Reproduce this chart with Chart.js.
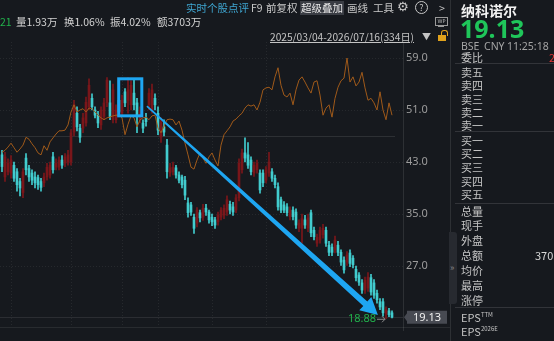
<!DOCTYPE html>
<html><head><meta charset="utf-8">
<script src="https://cdn.jsdelivr.net/npm/chart.js@4.4.1/dist/chart.umd.min.js"></script>
<style>
html,body{margin:0;padding:0;background:#16191e;width:554px;height:341px;overflow:hidden;font-family:"Noto Sans CJK SC","Noto Sans",sans-serif;}
#c{position:absolute;left:0;top:0;}
.t{position:absolute;white-space:nowrap;font-size:10.5px;line-height:14px;color:#c9c9c9;}
.p{position:absolute;white-space:nowrap;font-size:11px;line-height:14px;color:#c4c4c4;left:461px;}
.sep{position:absolute;left:455px;width:99px;height:1px;background:rgba(255,255,255,0.12);}
</style></head><body>
<canvas id="c" width="554" height="341"></canvas>

<!-- header row 1 -->
<span class="t" style="left:186px;top:1px;color:#3fa8d4">实时个股点评</span>
<span class="t" style="left:251px;top:1px;">F9</span>
<span class="t" style="left:266px;top:1px;">前复权</span>
<span class="t" style="left:300px;top:1px;background:#3a3d44;color:#e8e8e8;padding:0 1px;">超级叠加</span>
<span class="t" style="left:347px;top:1px;">画线</span>
<span class="t" style="left:373px;top:1px;">工具</span>
<span class="t" style="left:397px;top:0px;font-size:13px;font-family:'DejaVu Sans';">⚙</span>
<span class="t" style="left:415px;top:1px;width:11px;height:11px;line-height:11px;border:1px solid #c9c9c9;border-radius:50%;text-align:center;font-size:9px;">?</span>
<span class="t" style="left:439px;top:1px;">&gt;</span>
<!-- header row 2 -->
<span class="t" style="left:0px;top:15px;color:#22b24c">21</span>
<span class="t" style="left:16px;top:15px;color:#d4d4d4">量1.93万</span>
<span class="t" style="left:64px;top:15px;color:#d4d4d4">换1.06%</span>
<span class="t" style="left:110px;top:15px;color:#d4d4d4">振4.02%</span>
<span class="t" style="left:157px;top:15px;color:#d4d4d4">额3703万</span>
<div style="position:absolute;left:435px;top:17px;width:11px;height:7px;border:1px solid #9a9a9a;font-size:5px;line-height:7px;color:#bbb;text-align:center;font-family:'DejaVu Sans';">WP</div>
<div style="position:absolute;left:438px;top:26px;width:6px;height:1px;background:#9a9a9a;"></div>
<!-- header row 3 -->
<span class="t" style="left:270px;top:30px;font-size:10.2px;text-decoration:underline;color:#c4c4c4">2025/03/04-2026/07/16(334日)</span>
<span class="t" style="left:422px;top:30px;font-size:9px;color:#c4c4c4">▼</span>
<div style="position:absolute;left:438px;top:35px;width:8px;height:6px;background:#e0a21c;"></div>
<div style="position:absolute;left:441px;top:30px;width:5px;height:5px;border:1px solid #e0a21c;border-bottom:none;border-radius:3px 3px 0 0;"></div>

<!-- chart frame lines -->
<div style="position:absolute;left:0;top:327px;width:450px;height:1px;background:rgba(255,255,255,0.08);"></div>
<div style="position:absolute;left:450px;top:0;width:1px;height:341px;background:rgba(255,255,255,0.1);"></div>
<div style="position:absolute;left:449px;top:232px;width:8px;height:72px;background:#272a30;border-radius:0 3px 3px 0;"></div>
<span class="t" style="left:450px;top:261px;font-size:9px;color:#888;">»</span>

<!-- right panel -->
<span class="t" style="left:461px;top:2px;font-size:14px;line-height:17px;font-weight:bold;color:#f2f2f2;">纳科诺尔</span>
<span class="t" style="left:460px;top:13px;font-size:25px;line-height:30px;font-weight:bold;color:#1fc65a;font-family:'Noto Sans',sans-serif;">19.13</span>
<span class="t" style="left:461px;top:39px;font-size:10.5px;color:#a4a4a4;font-family:'Noto Sans',sans-serif;">BSE</span>
<span class="t" style="left:484px;top:39px;font-size:10.5px;color:#a4a4a4;font-family:'Noto Sans',sans-serif;">CNY</span>
<span class="t" style="left:507px;top:39px;font-size:10.5px;color:#a4a4a4;font-family:'Noto Sans',sans-serif;">11:25:18</span>
<span class="p" style="top:50px;">委比</span>
<span class="t" style="left:549px;top:50px;font-size:11px;color:#e03434;">2</span>
<div class="sep" style="top:63px;"></div>
<span class="p" style="top:65px;">卖五</span>
<span class="p" style="top:78px;">卖四</span>
<span class="p" style="top:92px;">卖三</span>
<span class="p" style="top:105px;">卖二</span>
<span class="p" style="top:118px;">卖一</span>
<div class="sep" style="top:131px;"></div>
<span class="p" style="top:133px;">买一</span>
<span class="p" style="top:146px;">买二</span>
<span class="p" style="top:160px;">买三</span>
<span class="p" style="top:174px;">买四</span>
<span class="p" style="top:187px;">买五</span>
<div class="sep" style="top:203px;"></div>
<span class="p" style="top:204px;">总量</span>
<span class="p" style="top:218px;">现手</span>
<span class="p" style="top:233px;">外盘</span>
<span class="p" style="top:248px;">总额</span>
<span class="t" style="left:535px;top:248px;font-size:11px;color:#d8d8d8;">370</span>
<span class="p" style="top:263px;">均价</span>
<span class="p" style="top:278px;">最高</span>
<span class="p" style="top:293px;">涨停</span>
<div class="sep" style="top:307px;"></div>
<span class="p" style="top:308px;">EPS<sup style="font-size:6px;vertical-align:5px;">TTM</sup></span>
<span class="p" style="top:322px;">EPS<sup style="font-size:6px;vertical-align:5px;">2026E</sup></span>

<script>
// ---- data ----
const candleOpen = [
44.1,40.7,41.5,41.3,42.5,41.5,40.0,38.3,43.6,42.0,
41.3,40.7,40.6,40.0,39.8,40.7,41.0,43.8,42.2,42.2,
43.3,42.8,43.0,43.0,47.6,50.5,48.2,48.2,49.0,51.5,
52.8,51.0,50.2,48.7,50.0,52.1,52.1,49.5,49.5,52.5,
50.5,53.8,52.5,51.8,53.6,52.1,49.5,49.0,49.8,51.8,
51.0,52.8,50.5,46.8,48.4,45.6,41.3,41.5,42.1,41.0,
40.7,40.2,36.7,36.4,34.5,33.6,35.2,34.5,35.9,35.3,
34.5,34.1,33.8,34.5,34.8,35.3,36.5,36.1,35.6,37.5,
41.8,44.4,44.1,43.3,41.3,41.8,41.3,41.3,40.2,41.3,
41.5,40.5,39.2,37.2,36.4,36.1,34.6,35.6,35.3,32.8,
32.8,34.1,32.8,35.2,32.5,30.5,31.0,31.8,32.5,30.2,
29.9,29.5,30.2,29.1,27.9,27.6,29.0,28.2,26.5,25.6,
24.4,23.3,23.6,25.2,24.4,22.8,21.5,21.5,19.7,20.1,
19.8];
const candleClose = [
42.3,43.8,42.8,43.3,40.5,39.5,39.0,41.5,41.8,40.7,
40.2,39.8,39.5,39.1,40.7,42.2,42.5,41.8,42.8,43.3,
42.5,43.8,44.1,47.5,51.8,48.4,46.8,49.8,52.2,54.8,
51.5,50.2,49.0,51.0,52.1,55.6,50.0,54.1,51.0,50.7,
52.5,52.1,54.1,54.8,51.8,50.2,51.0,48.2,49.2,53.6,
54.1,51.8,47.9,49.2,47.6,41.5,42.1,42.2,41.0,40.2,
39.5,37.9,35.2,35.3,32.8,35.6,34.4,35.9,35.3,34.1,
33.8,33.3,34.8,35.6,35.9,37.2,35.6,35.3,37.5,42.8,
44.4,43.6,42.5,41.5,42.5,42.8,38.7,39.8,41.8,43.0,
40.5,39.5,36.1,35.6,35.6,35.2,35.6,34.6,33.3,33.6,
34.3,33.3,34.4,32.1,31.5,31.4,32.5,32.8,30.5,29.1,
29.1,31.0,29.1,27.6,26.4,28.7,27.4,27.2,25.2,24.5,
23.3,24.8,25.3,23.0,22.5,21.8,20.7,19.8,20.3,19.5,
19.13];
const candleHigh = [
44.8,44.5,43.5,44.0,43.0,42.0,40.5,42.0,44.3,42.5,
41.8,41.5,41.0,40.5,41.3,42.8,43.0,44.5,43.5,43.8,
44.0,44.3,44.8,48.0,52.5,51.5,48.8,50.5,53.0,55.8,
53.5,51.5,50.8,51.5,52.8,56.0,55.5,55.0,51.8,53.0,
53.3,54.3,56.0,55.5,55.8,52.8,51.5,49.5,50.5,54.3,
55.0,53.5,51.5,49.8,49.5,46.5,42.8,43.0,42.5,41.5,
41.0,40.8,37.5,36.8,35.0,36.0,35.6,36.5,36.5,35.6,
35.0,34.5,35.3,36.0,36.4,37.8,37.0,36.8,38.0,43.5,
45.0,46.7,46.0,43.8,43.0,43.3,41.8,41.8,42.3,44.5,
42.0,41.0,39.8,37.6,36.9,36.6,36.1,36.1,35.8,34.1,
35.0,34.8,35.0,35.6,33.0,31.9,33.0,33.4,33.0,30.8,
30.4,31.6,30.8,29.5,28.4,29.2,29.5,28.6,27.0,26.0,
24.9,25.3,26.0,25.7,24.9,23.3,22.0,22.0,20.7,20.5,
20.1];
const candleLow = [
41.5,40.0,41.0,40.5,40.0,38.5,37.8,37.5,41.0,40.0,
39.5,39.0,38.8,38.5,39.2,40.2,40.5,41.3,41.8,41.8,
42.0,42.3,42.5,42.5,47.0,47.8,46.0,47.5,48.5,51.0,
51.0,49.8,48.3,48.0,49.5,51.5,49.5,49.0,49.0,50.0,
50.0,51.5,50.5,51.0,51.0,47.5,49.0,47.5,48.5,51.0,
50.5,51.0,47.2,46.0,47.0,40.5,40.8,41.0,40.5,39.8,
39.0,37.2,34.5,34.8,32.0,33.0,33.8,34.0,34.8,33.6,
33.2,32.8,33.3,34.1,34.3,34.8,35.0,34.8,35.2,37.0,
41.3,43.0,42.0,41.0,40.8,41.3,38.2,39.2,39.8,40.8,
40.0,39.0,35.6,35.2,35.2,34.7,34.1,34.1,32.8,32.3,
30.5,32.8,32.3,31.5,31.0,30.0,30.5,31.3,30.0,28.6,
28.6,29.0,28.6,27.1,25.9,27.1,26.9,26.7,24.7,24.0,
22.8,22.8,23.1,22.5,22.0,21.3,20.3,19.3,18.88,19.2,
19.0];
// overlaid comparison series, expressed on the price axis
const overlaySeries = [
44.5,44.8,45.3,45.9,45.2,44.5,45.0,45.6,46.8,46.5,
45.8,45.2,44.4,44.1,45.5,44.8,46.1,46.7,47.3,47.8,
47.8,47.9,48.7,50.7,51.8,50.7,51.0,51.2,50.7,51.3,
51.2,50.7,50.2,49.8,49.5,49.8,49.9,50.1,50.2,50.2,
49.8,47.2,48.8,50.1,49.8,48.4,49.5,49.8,49.9,49.5,
50.1,50.2,48.2,47.5,48.5,49.5,49.6,49.5,48.7,49.3,
47.9,45.9,44.1,42.2,41.9,43.3,44.4,43.6,42.8,43.8,
44.4,43.3,42.4,45.6,47.2,47.8,48.4,49.3,49.6,50.1,
50.5,51.3,51.8,51.6,51.8,51.0,52.2,54.1,54.4,54.5,
54.1,56.1,57.5,54.8,53.3,53.0,53.6,51.8,54.1,55.6,
56.1,55.3,54.4,53.6,55.3,55.5,53.3,50.2,51.3,51.8,
49.9,52.8,54.5,55.5,55.9,59.0,55.3,56.1,54.7,55.3,
56.8,54.4,52.5,52.8,52.1,51.0,53.8,51.0,49.5,52.1,
50.2];
const yTickValues = [59, 51, 43, 35, 27];
const lastPrice = 19.13;
const lowestPrice = 18.88;
const lowestIndex = 128;
const referenceLevel = 47.0;
const monthGridIndex = [3, 23, 40, 52, 70, 88];

// ---- chart ----
const idx = candleClose.map((_, i) => i);
const UP = 'rgb(122,22,26)', DOWN = 'rgb(66,204,206)';
const candleColors = idx.map(i => candleClose[i] >= candleOpen[i] ? UP : DOWN);
const bodies = idx.map(i => ({x: i, y: [candleOpen[i], candleClose[i]]}));
const wicks = idx.map(i => ({x: i, y: [candleLow[i], candleHigh[i]]}));
const overlayPts = idx.map(i => ({x: i, y: overlaySeries[i]}));

const annot = {
  id: 'annot',
  beforeDatasetsDraw(chart) {
    const {ctx, chartArea: a, scales: {x, y}} = chart;
    ctx.save();
    ctx.strokeStyle = 'rgba(255,255,255,0.07)';
    ctx.lineWidth = 1;
    ctx.setLineDash([1, 2]);
    yTickValues.forEach(v => {
      const py = Math.round(y.getPixelForValue(v)) + 0.5;
      ctx.beginPath(); ctx.moveTo(a.left, py); ctx.lineTo(a.right, py); ctx.stroke();
    });
    monthGridIndex.forEach(v => {
      const px = Math.round(x.getPixelForValue(v)) + 0.5;
      ctx.beginPath(); ctx.moveTo(px, a.top); ctx.lineTo(px, 327); ctx.stroke();
    });
    ctx.setLineDash([]);
    ctx.strokeStyle = 'rgba(255,255,255,0.1)';
    let py = Math.round(y.getPixelForValue(referenceLevel)) + 0.5;
    ctx.beginPath(); ctx.moveTo(a.left, py); ctx.lineTo(x.getPixelForValue(131), py); ctx.stroke();
    ctx.strokeStyle = 'rgba(255,255,255,0.09)';
    py = Math.round(y.getPixelForValue(lastPrice)) + 0.5;
    ctx.beginPath(); ctx.moveTo(a.left, py); ctx.lineTo(a.right, py); ctx.stroke();
    ctx.restore();
  },
  afterDatasetsDraw(chart) {
    const {ctx, chartArea: a, scales: {x, y}} = chart;
    ctx.save();
    const blue = '#1ea6f2';
    // highlight box
    ctx.strokeStyle = blue; ctx.lineWidth = 3;
    const bx0 = x.getPixelForValue(38.9), bx1 = x.getPixelForValue(46.6);
    const by0 = y.getPixelForValue(55.8), by1 = y.getPixelForValue(50.1);
    ctx.strokeRect(bx0, by0, bx1 - bx0, by1 - by0);
    // tapered arrow
    const sx = x.getPixelForValue(48.3), sy = y.getPixelForValue(51.6);
    const tx = x.getPixelForValue(125.3), ty = y.getPixelForValue(19.45);
    const dx = tx - sx, dy = ty - sy, L = Math.hypot(dx, dy);
    const ux = dx / L, uy = dy / L, nx = -uy, ny = ux;
    const hl = 17, hw = 9, w0 = 0.8, w1 = 3;
    const bxp = tx - ux * hl, byp = ty - uy * hl;
    ctx.fillStyle = blue;
    ctx.beginPath();
    ctx.moveTo(sx + nx * w0, sy + ny * w0);
    ctx.lineTo(bxp + nx * w1, byp + ny * w1);
    ctx.lineTo(bxp + nx * hw, byp + ny * hw);
    ctx.lineTo(tx, ty);
    ctx.lineTo(bxp - nx * hw, byp - ny * hw);
    ctx.lineTo(bxp - nx * w1, byp - ny * w1);
    ctx.lineTo(sx - nx * w0, sy - ny * w0);
    ctx.closePath(); ctx.fill();
    // lowest price marker
    const ly = y.getPixelForValue(lowestPrice);
    const lx = x.getPixelForValue(lowestIndex);
    ctx.font = '11px "Noto Sans", sans-serif';
    ctx.fillStyle = '#22b14c'; ctx.textAlign = 'right'; ctx.textBaseline = 'middle';
    ctx.fillText(lowestPrice.toFixed(2), lx - 10, ly);
    ctx.strokeStyle = '#8a8a8a'; ctx.lineWidth = 1;
    ctx.beginPath(); ctx.moveTo(lx - 9, ly + 0.5); ctx.lineTo(lx - 1, ly + 0.5);
    ctx.moveTo(lx - 4, ly - 2.5); ctx.lineTo(lx - 1, ly + 0.5); ctx.lineTo(lx - 4, ly + 3.5); ctx.stroke();
    // last price tag
    const py = y.getPixelForValue(lastPrice);
    ctx.fillStyle = '#474a52';
    ctx.beginPath();
    ctx.moveTo(a.right + 1, py);
    ctx.lineTo(a.right + 4, py - 4);
    ctx.lineTo(a.right + 4, py - 6.5);
    ctx.lineTo(a.right + 44, py - 6.5);
    ctx.lineTo(a.right + 44, py + 6.5);
    ctx.lineTo(a.right + 4, py + 6.5);
    ctx.lineTo(a.right + 4, py + 4);
    ctx.closePath(); ctx.fill();
    ctx.fillStyle = '#f0f0f0'; ctx.textAlign = 'center';
    ctx.fillText(lastPrice.toFixed(2), a.right + 24, py + 0.5);
    ctx.restore();
  }
};

new Chart(document.getElementById('c'), {
  type: 'bar',
  data: {
    datasets: [
      {type: 'line', data: overlayPts, borderColor: 'rgb(160,90,26)', borderWidth: 1, pointRadius: 0, tension: 0, order: 0},
      {data: bodies, backgroundColor: candleColors, barThickness: 2, minBarLength: 1, grouped: false, order: 1},
      {data: wicks, backgroundColor: candleColors, barThickness: 1, grouped: false, order: 2}
    ]
  },
  options: {
    responsive: false, animation: false, devicePixelRatio: 1,
    layout: {padding: {left: 0, top: 42, right: 104, bottom: 11}},
    plugins: {legend: {display: false}, tooltip: {enabled: false}},
    scales: {
      x: {type: 'linear', display: false, min: -2 / 3, max: 403 / 3 - 2 / 3, offset: false},
      y: {
        position: 'right', min: 17.1538, max: 61.4615,
        afterFit(s) { s.width = 47; },
        afterBuildTicks(s) { s.ticks = yTickValues.map(v => ({value: v})); },
        ticks: {color: '#9c9c9c', padding: 3, font: {size: 11, family: 'Noto Sans'}, callback: v => Number(v).toFixed(1)},
        grid: {display: false, drawTicks: false},
        border: {display: true, color: 'rgba(255,255,255,0.1)'}
      }
    }
  },
  plugins: [annot]
});
</script>
</body></html>
